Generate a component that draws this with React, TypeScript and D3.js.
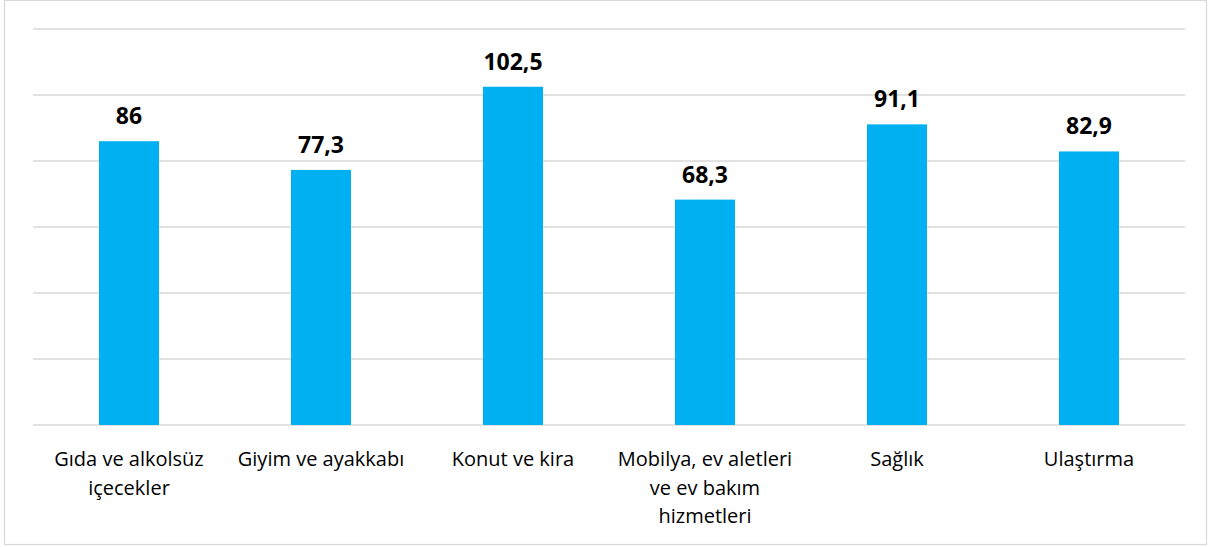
import React, { useEffect, useRef } from "react";
import * as d3 from "d3";

// chart data
const categories = [
  "Gıda ve alkolsüz içecekler",
  "Giyim ve ayakkabı",
  "Konut ve kira",
  "Mobilya, ev aletleri ve ev bakım hizmetleri",
  "Sağlık",
  "Ulaştırma",
];
const categoryLines = [
  ["Gıda ve alkolsüz", "içecekler"],
  ["Giyim ve ayakkabı"],
  ["Konut ve kira"],
  ["Mobilya, ev aletleri", "ve ev bakım", "hizmetleri"],
  ["Sağlık"],
  ["Ulaştırma"],
];
const values = [86, 77.3, 102.5, 68.3, 91.1, 82.9];
const yTicks = [0, 20, 40, 60, 80, 100, 120];

const W = 1208;
const H = 547;

const App = () => {
  const ref = useRef<SVGSVGElement>(null);

  useEffect(() => {
    const svg = d3.select(ref.current);
    svg.selectAll("*").remove();

    const margin = { top: 29, bottom: 122, left: 33, right: 23 };
    const font = "'Open Sans', 'Noto Sans', sans-serif";

    // outer frame
    svg
      .append("rect")
      .attr("x", 4.5)
      .attr("y", 0.5)
      .attr("width", W - 6)
      .attr("height", H - 3)
      .attr("fill", "#fff")
      .attr("stroke", "#d9d9d9")
      .attr("stroke-width", 1.3);

    const x = d3
      .scaleBand()
      .domain(categories)
      .range([margin.left, W - margin.right])
      .paddingInner(0.6875)
      .paddingOuter(0.34375);

    const y = d3
      .scaleLinear()
      .domain([0, 120])
      .range([H - margin.bottom, margin.top]);

    // gridlines
    svg
      .append("g")
      .selectAll("line")
      .data(yTicks)
      .join("line")
      .attr("x1", margin.left)
      .attr("x2", W - margin.right)
      .attr("y1", (d) => y(d))
      .attr("y2", (d) => y(d))
      .attr("stroke", "#d9d9d9")
      .attr("stroke-width", 1.3);

    // bars
    svg
      .append("g")
      .selectAll("rect")
      .data(values)
      .join("rect")
      .attr("x", (d, i) => x(categories[i])!)
      .attr("width", x.bandwidth())
      .attr("y", (d) => y(d))
      .attr("height", (d) => y(0) - y(d))
      .attr("fill", "#00b0f0");

    const locale = d3.formatLocale({
      decimal: ",",
      thousands: ".",
      grouping: [3],
      currency: ["", ""],
    });
    const fmt = locale.format("~g");

    // value labels
    svg
      .append("g")
      .selectAll("text")
      .data(values)
      .join("text")
      .attr("x", (d, i) => x(categories[i])! + x.bandwidth() / 2)
      .attr("y", (d) => y(d) - 17)
      .attr("text-anchor", "middle")
      .attr("font-family", font)
      .attr("font-weight", 700)
      .attr("font-size", 23)
      .attr("fill", "#000")
      .text((d) => fmt(d));

    // category labels
    const labels = svg
      .append("g")
      .selectAll("text")
      .data(categoryLines)
      .join("text")
      .attr("x", (d, i) => x(categories[i])! + x.bandwidth() / 2)
      .attr("y", y(0) + 41)
      .attr("text-anchor", "middle")
      .attr("font-family", font)
      .attr("font-size", 20)
      .attr("fill", "#000");

    labels
      .selectAll("tspan")
      .data((d) => d)
      .join("tspan")
      .attr("x", function () {
        return (this.parentNode as SVGTextElement).getAttribute("x");
      })
      .attr("dy", (d, i) => (i === 0 ? 0 : 28.5))
      .text((d) => d);
  }, []);

  return (
    <svg
      ref={ref}
      width={W}
      height={H}
      style={{ position: "absolute", left: 0, top: 0 }}
    />
  );
};

export default App;
